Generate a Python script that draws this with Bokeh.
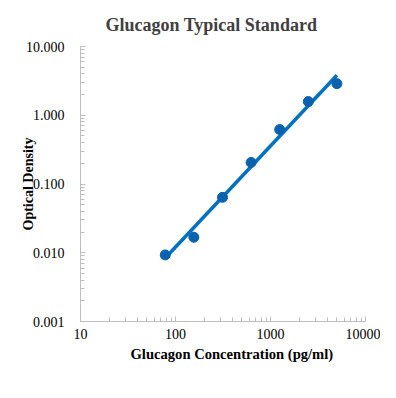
import numpy as np
from bokeh.plotting import figure
from bokeh.models import LogTicker, CustomJSTickFormatter, Title
from bokeh.embed import file_html
from bokeh.resources import INLINE

conc = [78, 156, 312.5, 625, 1250, 2500, 5000]
od = [0.0093, 0.0168, 0.064, 0.206, 0.62, 1.58, 2.88]

# power trendline fit (log-log regression)
lx = np.log10(conc)
ly = np.log10(od)
b, a = np.polyfit(lx, ly, 1)
fit_x = np.array([conc[0], conc[-1]])
fit_y = 10 ** (a + b * np.log10(fit_x))

SERIF = "'Liberation Serif', 'Times New Roman', serif"

p = figure(width=380, height=382, x_axis_type="log", y_axis_type="log",
           x_range=(10, 10000), y_range=(0.001, 10),
           output_backend="svg", toolbar_location=None,
           min_border_left=80, min_border_right=15, min_border_top=46, min_border_bottom=61)
p.outline_line_color = None
p.xgrid.grid_line_color = None
p.ygrid.grid_line_color = None

p.line(fit_x, fit_y, line_color="#0070C0", line_width=3.5)
p.scatter(conc, od, size=10, fill_color="#0A62AE", line_color="#0A62AE")

p.title.text = "Glucagon Typical Standard"
p.title.text_font = SERIF
p.title.text_font_size = "18px"
p.title.text_font_style = "bold"
p.title.text_color = "#404040"
p.title.align = "left"
p.title.offset = 25
p.title.standoff = 23

p.xaxis.ticker = LogTicker(desired_num_ticks=4, num_minor_ticks=10, mantissas=[1])
p.yaxis.ticker = LogTicker(desired_num_ticks=5, num_minor_ticks=10, mantissas=[1])
p.xaxis.formatter = CustomJSTickFormatter(code="return tick.toFixed(0);")
p.yaxis.formatter = CustomJSTickFormatter(code="return tick.toFixed(3);")

for ax in (p.xaxis[0], p.yaxis[0]):
    ax.axis_line_color = "#BFBFBF"
    ax.major_tick_line_color = "#BFBFBF"
    ax.major_tick_in = 5
    ax.major_tick_out = 0
    ax.minor_tick_line_color = "#BFBFBF"
    ax.minor_tick_in = 4
    ax.minor_tick_out = 0
    ax.major_label_text_font = SERIF
    ax.major_label_text_font_size = "14px"
    ax.major_label_text_color = "#000000"
    ax.axis_label_text_font = SERIF
    ax.axis_label_text_font_size = "14px"
    ax.axis_label_text_font_style = "bold"
    ax.axis_label_text_color = "#000000"

p.xaxis.major_label_standoff = 7
p.add_layout(Title(text="Glucagon Concentration (pg/ml)", align="left", offset=50,
                   text_font=SERIF, text_font_size="14.6px", text_font_style="bold",
                   text_color="#000000", standoff=4), "below")
p.yaxis.axis_label = "Optical Density"
p.yaxis.major_label_standoff = 16
p.yaxis.axis_label_standoff = -13

open("out.html", "w").write(file_html(p, INLINE))
